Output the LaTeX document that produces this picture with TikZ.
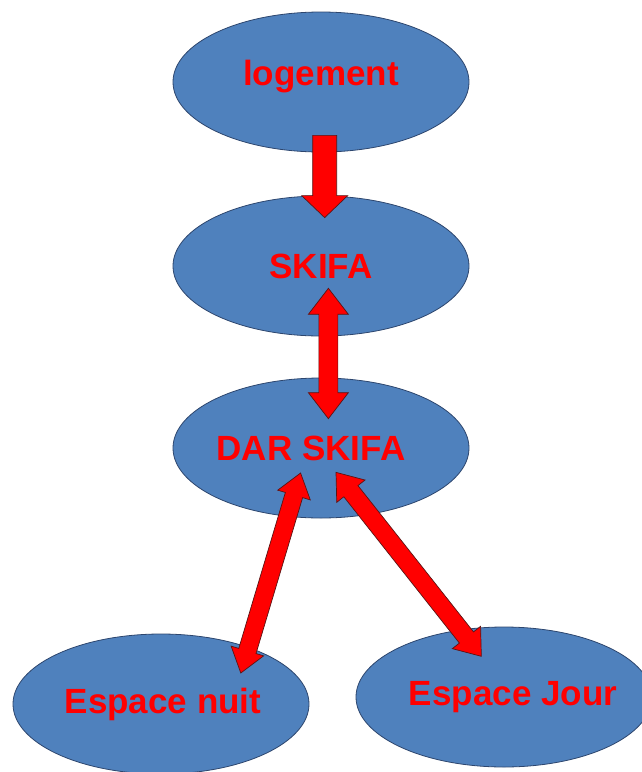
\documentclass[tikz,border=0pt]{standalone}
\usepackage{fontspec}
\setmainfont{Liberation Sans}
\usepackage{tikz}
\usetikzlibrary{shapes.geometric, calc}

\definecolor{ellblue}{RGB}{79,129,189}
\definecolor{ellline}{RGB}{45,70,110}
\definecolor{titlered}{RGB}{255,0,0}
\definecolor{arrline}{RGB}{90,20,20}

\begin{document}
\begin{tikzpicture}[x=1pt, y=1pt,
  place/.style={ellipse, draw=ellline, fill=ellblue, line width=0.8pt,
                minimum width=296pt, minimum height=140pt,
                inner xsep=-30pt, inner ysep=0pt,
                font=\fontsize{35}{42}\selectfont\bfseries, text=titlered},
  shaftw/.store in=\shaftw, headw/.store in=\headw, headl/.store in=\headl,
  shaftw=9, headw=18, headl=23,
  blockarr/.style={draw=arrline, fill=titlered, line width=0.7pt,
                   line join=miter},
  onearrow/.style 2 args={blockarr, to path={
      let \p1=(\tikztostart), \p2=(\tikztotarget),
          \n1={atan2(\y2-\y1,\x2-\x1)},
          \n2={veclen(\x2-\x1,\y2-\y1)+#2},
          \n3={\n2-\headl}
      in {[shift={(\p1)}, rotate=\n1]
        (-#1,\shaftw) -- (\n3,\shaftw) -- (\n3,\headw) -- (\n2,0)
        -- (\n3,-\headw) -- (\n3,-\shaftw) -- (-#1,-\shaftw) -- cycle}}},
  twoarrow/.style 2 args={blockarr, to path={
      let \p1=(\tikztostart), \p2=(\tikztotarget),
          \n1={atan2(\y2-\y1,\x2-\x1)},
          \n2={veclen(\x2-\x1,\y2-\y1)+#2},
          \n3={\n2-\headl},
          \n4={\headl-#1}
      in {[shift={(\p1)}, rotate=\n1]
        (-#1,0) -- (\n4,\headw) -- (\n4,\shaftw) -- (\n3,\shaftw)
        -- (\n3,\headw) -- (\n2,0) -- (\n3,-\headw) -- (\n3,-\shaftw)
        -- (\n4,-\shaftw) -- (\n4,-\headw) -- cycle}}}
]
  \useasboundingbox (0,0) rectangle (642,-772);

  % Ellipses
  \node[place, text depth=19pt] (logement) at (321,  -82) {logement};
  \node[place] (skifa)    at (321, -266) {SKIFA};
  \node[place] (dar)      at (321, -448) {DAR SKIFA\kern20pt};
  \node[place] (nuit)     at (161, -704) {\kern4pt Espace nuit};
  \node[place] (jour)     at (504, -697) {\kern18pt Espace Jour};

  % Block arrows
  \draw[onearrow={17}{22}, shaftw=12, headw=23, headl=22]
    (logement.-87) to (skifa.87);
  \draw[twoarrow={48}{41}, shaftw=9.5, headw=20, headl=26]
    (skifa.-84) to (dar.84);
  \draw[twoarrow={45.5}{27}, shaftw=9, headw=17, headl=23]
    (dar.-116) to (nuit.33.5);
  \draw[twoarrow={53.8}{33.9}, shaftw=9, headw=18, headl=24]
    (dar.-54.6) to (jour.123.9);
\end{tikzpicture}
\end{document}
